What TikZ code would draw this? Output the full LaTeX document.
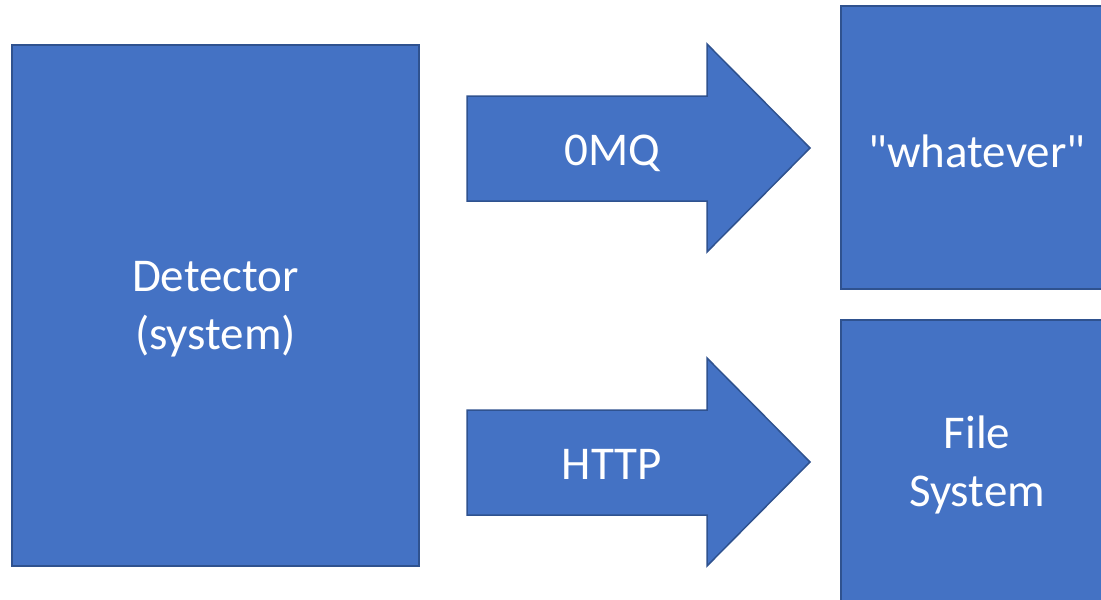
\documentclass[tikz,border=0pt]{standalone}
\usepackage{fontspec}
\setmainfont{Carlito}
\definecolor{boxfill}{HTML}{4472C4}
\definecolor{boxline}{HTML}{2F528F}
\begin{document}
\begin{tikzpicture}[x=1pt,y=-1pt,
  block/.style={fill=boxfill,draw=boxline,line width=1.5pt},
  caption/.style={text=white,font=\fontsize{47}{58}\selectfont,align=center,inner sep=0pt}]
\useasboundingbox (0,0) rectangle (1101,600);
\begin{scope}
\clip (0,0) rectangle (1101,600);
% detector and the two receivers
\draw[block] (12,45) rectangle (419,566);
\draw[block] (841,6) rectangle (1115,289);
\draw[block] (841,320) rectangle (1115,610);
% block arrows
\draw[block] (467,96) -- (707,96) -- (707,44) -- (810,148) -- (707,252) -- (707,201) -- (467,201) -- cycle;
\draw[block] (467,410) -- (707,410) -- (707,358) -- (810,462) -- (707,566) -- (707,515) -- (467,515) -- cycle;
\end{scope}
\node[caption] (det) at (215.5,309) {Detector\\(system)};
\node[caption] (zmq) at (612,153) {0MQ};
\node[caption] (http) at (612,464) {HTTP};
\node[caption] (what) at (977,151) {\textquotedbl whatever\textquotedbl};
\node[caption] (fs) at (977,465) {File\\System};
\end{tikzpicture}
\end{document}
